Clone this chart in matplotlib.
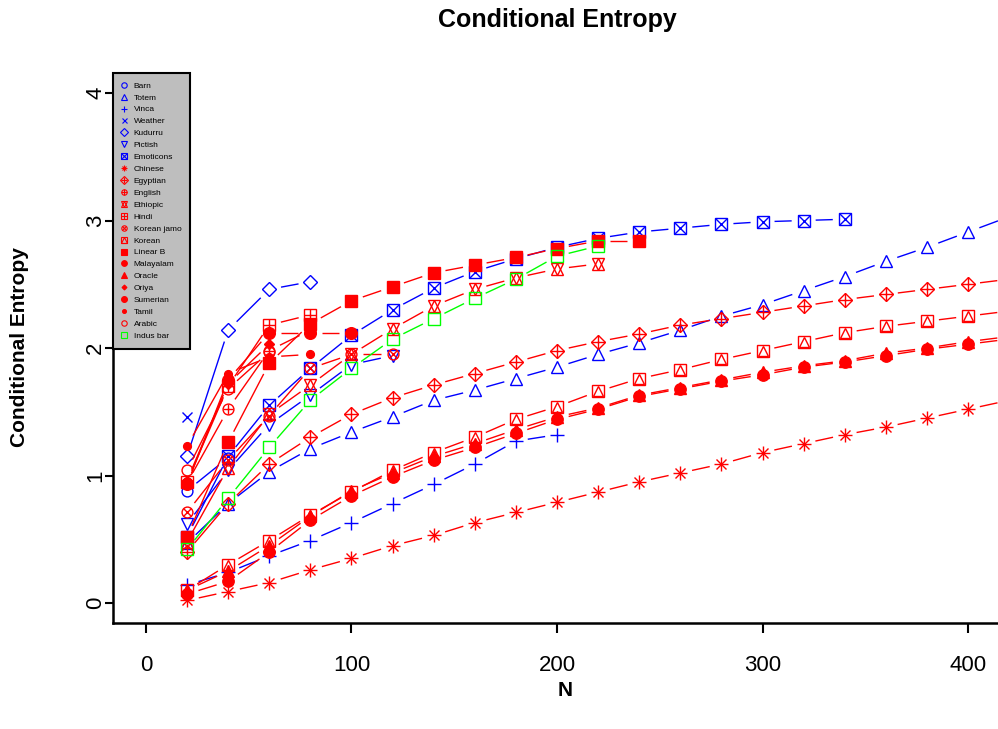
import matplotlib

matplotlib.use("Agg")
import matplotlib.pyplot as plt
import numpy as np
from matplotlib.collections import LineCollection
from matplotlib.legend_handler import HandlerTuple
from matplotlib.lines import Line2D

plt.rcParams["font.family"] = ["Liberation Sans", "DejaVu Sans"]

W, H, DPI = 998, 729, 100

# sample sizes (x positions), shared by all series
N_VALUES = [20, 40, 60, 80, 100, 120, 140, 160, 180, 200, 220,
            240, 260, 280, 300, 320, 340, 360, 380, 400, 420]

# conditional entropy per script
barn = [0.88, 1.14]
totem = [0.47, 0.78, 1.03, 1.21, 1.34, 1.46, 1.59, 1.67, 1.76, 1.85, 1.95,
         2.04, 2.14, 2.25, 2.34, 2.45, 2.56, 2.68, 2.79, 2.91, 3.03]
vinca = [0.14, 0.24, 0.37, 0.49, 0.63, 0.78, 0.93, 1.09, 1.27, 1.32]
weather = [1.46]
kudurru = [1.15, 2.14, 2.46, 2.52]
pictish = [0.62, 1.04, 1.40, 1.63, 1.87, 1.94]
emoticons = [0.52, 1.15, 1.55, 1.84, 2.10, 2.30, 2.47, 2.60, 2.70, 2.79, 2.86,
             2.91, 2.94, 2.97, 2.99, 3.00, 3.01]
chinese = [0.02, 0.09, 0.16, 0.26, 0.35, 0.45, 0.53, 0.63, 0.71, 0.79, 0.87,
           0.95, 1.02, 1.09, 1.18, 1.25, 1.32, 1.38, 1.45, 1.52, 1.59]
egyptian = [0.40, 0.78, 1.09, 1.30, 1.48, 1.61, 1.71, 1.80, 1.89, 1.98, 2.05,
            2.11, 2.18, 2.23, 2.28, 2.33, 2.38, 2.42, 2.46, 2.50, 2.54]
english = [0.94, 1.52, 1.98, 2.14]
ethiopic = [0.48, 1.06, 1.48, 1.71, 1.95, 2.15, 2.33, 2.46, 2.55, 2.62, 2.66]
hindi = [0.95, 1.70, 2.18, 2.26]
korean_jamo = [0.71, 1.12, 1.47, 1.84, 1.95, 1.95]
korean = [0.10, 0.30, 0.49, 0.69, 0.87, 1.04, 1.18, 1.30, 1.44, 1.54, 1.66,
          1.76, 1.83, 1.91, 1.98, 2.05, 2.12, 2.17, 2.21, 2.25, 2.29]
linear_b = [0.52, 1.26, 1.88, 2.19, 2.37, 2.48, 2.59, 2.65, 2.71, 2.78, 2.84, 2.84]
malayalam = [0.07, 0.17, 0.40, 0.65, 0.84, 0.99, 1.12, 1.22, 1.33, 1.44, 1.52,
             1.62, 1.68, 1.74, 1.79, 1.85, 1.89, 1.94, 1.99, 2.03, 2.07]
oracle = [0.10, 0.25, 0.45, 0.68, 0.88, 1.02, 1.15, 1.25, 1.36, 1.46, 1.53,
          1.63, 1.69, 1.75, 1.81, 1.86, 1.90, 1.96, 2.00, 2.05, 2.09]
oriya = [0.96, 1.72, 2.03]
sumerian = [0.93, 1.75, 2.12, 2.12, 2.12]
tamil = [1.23, 1.80, 1.93, 1.95]
arabic = [1.04, 1.68, 1.97]
indus_bar = [0.42, 0.82, 1.22, 1.59, 1.84, 2.07, 2.23, 2.39, 2.54, 2.72, 2.80]

SERIES = [
    ("Barn", barn), ("Totem", totem), ("Vinca", vinca), ("Weather", weather),
    ("Kudurru", kudurru), ("Pictish", pictish), ("Emoticons", emoticons),
    ("Chinese", chinese), ("Egyptian", egyptian), ("English", english),
    ("Ethiopic", ethiopic), ("Hindi", hindi), ("Korean jamo", korean_jamo),
    ("Korean", korean), ("Linear B", linear_b), ("Malayalam", malayalam),
    ("Oracle", oracle), ("Oriya", oriya), ("Sumerian", sumerian),
    ("Tamil", tamil), ("Arabic", arabic), ("Indus bar", indus_bar),
]

BLUE, RED, GREEN = "#0000FF", "#FF0000", "#00FF00"
COLORS = [BLUE] * 7 + [RED] * 14 + [GREEN]

# R-like pch symbols built from stacked matplotlib markers: (marker, size, filled)
MARKERS = [
    [("o", 7.8, False)],
    [("^", 8.6, False)],
    [("+", 10.0, False)],
    [("x", 7.2, False)],
    [("D", 7.2, False)],
    [("v", 8.6, False)],
    [("s", 8.0, False), ("x", 8.0, False)],
    [("+", 9.5, False), ("x", 7.0, False)],
    [("D", 7.2, False), ("+", 10.0, False)],
    [("o", 7.8, False), ("+", 7.8, False)],
    [("^", 8.6, False), ("v", 8.6, False)],
    [("s", 8.0, False), ("+", 8.0, False)],
    [("o", 7.8, False), ("x", 5.5, False)],
    [("s", 8.0, False), ("^", 7.6, False)],
    [("s", 8.0, True)],
    [("o", 8.2, True)],
    [("^", 8.6, True)],
    [("D", 5.0, True)],
    [("o", 8.4, True)],
    [("o", 5.6, True)],
    [("o", 7.8, False)],
    [("s", 8.0, False)],
]


def gapped_segments(ax, x, y, gap_px):
    """Segments between consecutive points, trimmed near each point (R type='b')."""
    pts = ax.transData.transform(np.column_stack([x, y]))
    inv = ax.transData.inverted()
    segs = []
    for p0, p1 in zip(pts[:-1], pts[1:]):
        d = p1 - p0
        length = np.hypot(d[0], d[1])
        if length <= 2 * gap_px:
            continue
        u = d / length
        segs.append(inv.transform(np.array([p0 + u * gap_px, p1 - u * gap_px])))
    return segs


def main() -> int:
    fig = plt.figure(figsize=(W / DPI, H / DPI), dpi=DPI)
    ax = fig.add_axes([113 / W, 1 - 623.4 / H, 888 / W, 550.8 / H])
    ax.set_xlim(-16, 416)
    ax.set_ylim(-0.16, 4.16)

    handles = []
    for (name, vals), color, parts in zip(SERIES, COLORS, MARKERS):
        y = np.asarray(vals, dtype=float)
        x = np.asarray(N_VALUES[: len(y)], dtype=float)
        segs = gapped_segments(ax, x, y, 12.0)
        if segs:
            ax.add_collection(LineCollection(segs, colors=color, linewidths=1.0))
        legend_parts = []
        for marker, size, filled in parts:
            face = color if filled else "none"
            ax.plot(x, y, ls="none", marker=marker, ms=size, mfc=face, mec=color, mew=1.0)
            legend_parts.append(
                Line2D([], [], ls="none", marker=marker, ms=size * 0.5, mfc=face, mec=color, mew=0.8)
            )
        handles.append(tuple(legend_parts))

    ax.set_xticks([0, 100, 200, 300, 400])
    ax.set_yticks([0, 1, 2, 3, 4])
    ax.tick_params(labelsize=16, width=1.5)
    ax.tick_params(axis="x", length=7, pad=16)
    ax.tick_params(axis="y", length=6, pad=-1)
    for lab in ax.get_yticklabels():
        lab.set_rotation(90)
        lab.set_va("center")
    for side in ("top", "right"):
        ax.spines[side].set_visible(False)
    for side in ("left", "bottom"):
        ax.spines[side].set_linewidth(1.8)

    leg = ax.legend(
        handles,
        [name for name, _ in SERIES],
        handler_map={tuple: HandlerTuple(ndivide=1)},
        loc="upper left",
        bbox_to_anchor=(0, 0, 77 / 888, 1),
        mode="expand",
        borderaxespad=0,
        fontsize=6,
        labelspacing=0.49,
        handlelength=0.4,
        handletextpad=1.0,
        borderpad=1.1,
        fancybox=False,
        framealpha=1,
        facecolor="#BEBEBE",
        edgecolor="black",
    )
    leg.get_frame().set_linewidth(1.5)

    fig.text(557 / W, 1 - 20 / H, "Conditional Entropy", ha="center", va="center",
             fontsize=18, fontweight="bold")
    fig.text(20 / W, 1 - 347 / H, "Conditional Entropy", ha="center", va="center",
             rotation=90, fontsize=15, fontweight="bold")
    fig.text(565 / W, 1 - 690 / H, "N", ha="center", va="center", fontsize=15, fontweight="bold")

    fig.savefig("out.png", dpi=DPI)
    plt.close(fig)
    return 0


if __name__ == "__main__":
    raise SystemExit(main())
